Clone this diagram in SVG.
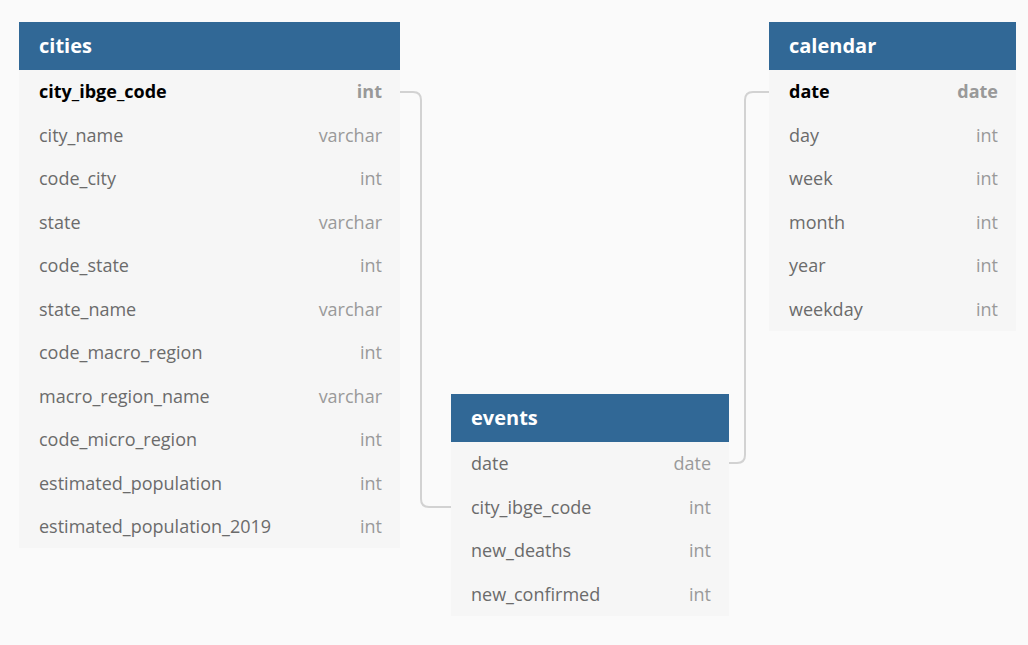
<svg xmlns="http://www.w3.org/2000/svg" width="1028" height="645" viewBox="0 0 1028 645">
<style>
.bg{fill:#fafafa}
.hd{fill:#316896}
.row{fill:#f6f6f6}
.row2{fill:#f4f4f4}
.title{font-family:"Open Sans",sans-serif;font-size:20px;font-weight:bold;fill:#ffffff}
.n{font-family:"Open Sans",sans-serif;font-size:18px;fill:#6b6b6b}
.t{font-family:"Open Sans",sans-serif;font-size:18px;fill:#9a9a9a;text-anchor:end}
.pk{font-weight:bold;fill:#000}
.pkt{font-weight:bold;fill:#999}
.conn{fill:none;stroke:#d2d2d2;stroke-width:2}
</style>
<rect class="bg" x="0" y="0" width="1028" height="645"/>
<g id="connectors">
<path class="conn" d="M400,92 H413 Q421,92 421,100 V499 Q421,507 429,507 H451"/>
<path class="conn" d="M729,463 H737 Q745,463 745,455 V100 Q745,92 753,92 H769"/>
</g>
<g id="cities">
<rect class="row" x="19" y="70" width="381" height="478"/>
<rect class="hd" x="19" y="22" width="381" height="48"/>
<text class="title" x="39" y="53">cities</text>
<text class="n pk" x="39" y="98">city_ibge_code</text><text class="t pkt" x="382" y="98">int</text>
<text class="n" x="39" y="142">city_name</text><text class="t" x="382" y="142">varchar</text>
<text class="n" x="39" y="185">code_city</text><text class="t" x="382" y="185">int</text>
<text class="n" x="39" y="229">state</text><text class="t" x="382" y="229">varchar</text>
<text class="n" x="39" y="272">code_state</text><text class="t" x="382" y="272">int</text>
<text class="n" x="39" y="316">state_name</text><text class="t" x="382" y="316">varchar</text>
<text class="n" x="39" y="359">code_macro_region</text><text class="t" x="382" y="359">int</text>
<text class="n" x="39" y="403">macro_region_name</text><text class="t" x="382" y="403">varchar</text>
<text class="n" x="39" y="446">code_micro_region</text><text class="t" x="382" y="446">int</text>
<text class="n" x="39" y="490">estimated_population</text><text class="t" x="382" y="490">int</text>
<text class="n" x="39" y="533">estimated_population_2019</text><text class="t" x="382" y="533">int</text>
</g>
<g id="calendar">
<rect class="row" x="769" y="70" width="247" height="261"/>
<rect class="hd" x="769" y="22" width="247" height="48"/>
<text class="title" x="789" y="53">calendar</text>
<text class="n pk" x="789" y="98">date</text><text class="t pkt" x="998" y="98">date</text>
<text class="n" x="789" y="142">day</text><text class="t" x="998" y="142">int</text>
<text class="n" x="789" y="185">week</text><text class="t" x="998" y="185">int</text>
<text class="n" x="789" y="229">month</text><text class="t" x="998" y="229">int</text>
<text class="n" x="789" y="272">year</text><text class="t" x="998" y="272">int</text>
<text class="n" x="789" y="316">weekday</text><text class="t" x="998" y="316">int</text>
</g>
<g id="events">
<rect class="row" x="451" y="442" width="278" height="174"/>
<rect class="hd" x="451" y="394" width="278" height="48"/>
<text class="title" x="471" y="425">events</text>
<text class="n" x="471" y="470">date</text><text class="t" x="711" y="470">date</text>
<text class="n" x="471" y="514">city_ibge_code</text><text class="t" x="711" y="514">int</text>
<text class="n" x="471" y="557">new_deaths</text><text class="t" x="711" y="557">int</text>
<text class="n" x="471" y="601">new_confirmed</text><text class="t" x="711" y="601">int</text>
</g>
</svg>
